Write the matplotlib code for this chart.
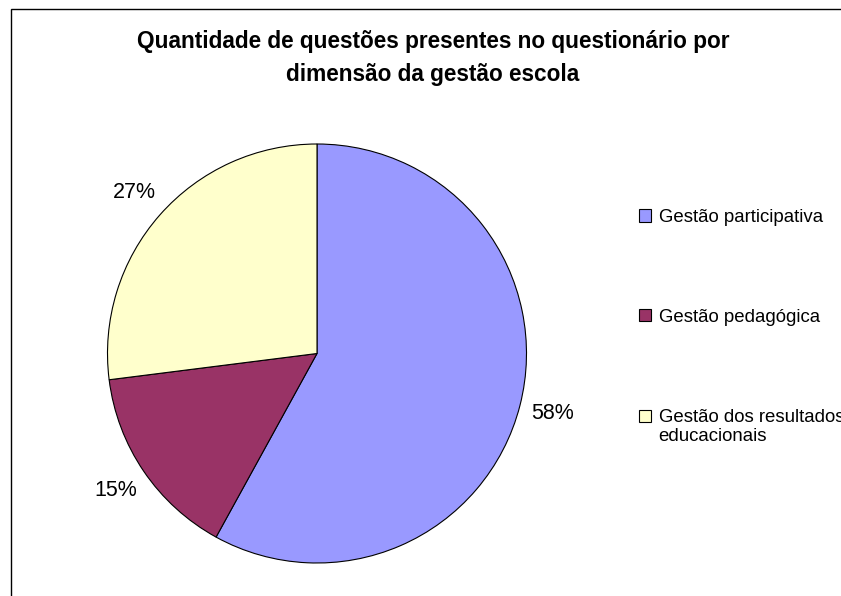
import matplotlib
matplotlib.use("Agg")
import matplotlib.pyplot as plt
from matplotlib.patches import Rectangle

plt.rcParams['font.family'] = ['Liberation Sans', 'DejaVu Sans']

# dados
categorias = ["Gestão participativa", "Gestão pedagógica",
              "Gestão dos resultados\neducacionais"]
percentuais = [58, 15, 27]
cores = ["#9999FF", "#993366", "#FFFFCC"]
titulo = ("Quantidade de questões presentes no questionário por\n"
          "dimensão da gestão escola")

W, H = 841, 596
fig = plt.figure(figsize=(W / 100, H / 100), dpi=100)

# área do gráfico (pizza)
cx, cy, r = 317, 353.5, 209.5
ax = fig.add_axes([(cx - r) / W, 1 - (cy + r) / H, 2 * r / W, 2 * r / H])
wedges, textos, pcts = ax.pie(percentuais, colors=cores, startangle=90,
                              counterclock=False, autopct='%1.0f%%',
                              pctdistance=1.16,
                              wedgeprops=dict(edgecolor="black", linewidth=0.8),
                              textprops=dict(fontsize=15.5, color="black"))
ax.set_xlim(-1, 1)
ax.set_ylim(-1, 1)
ax.set_aspect('equal')

# moldura (cortada à direita e embaixo)
fig.patches.append(Rectangle((11 / W, -0.1), 2, 1 - 9 / H + 0.1,
                             transform=fig.transFigure, fill=False,
                             edgecolor="black", linewidth=1.0))

# título
fig.text(433 / W, 1 - 58 / H, titulo, ha="center", va="center",
         fontsize=16.3, fontweight="bold", linespacing=1.55)

# legenda
leg = ax.legend(wedges, categorias, loc="upper left",
                bbox_to_anchor=(639 / W, 1 - 209 / H),
                bbox_transform=fig.transFigure, frameon=False, fontsize=13.4,
                borderpad=0, borderaxespad=0, handlelength=0.65,
                handleheight=0.65, handletextpad=0.4, labelspacing=4.45)
# marcador do item de duas linhas alinhado com a primeira linha
h3 = leg.legend_handles[2]
h3.set_y(h3.get_y() + 11 * 0.72)

fig.savefig("out.png", dpi=100, facecolor="white")
